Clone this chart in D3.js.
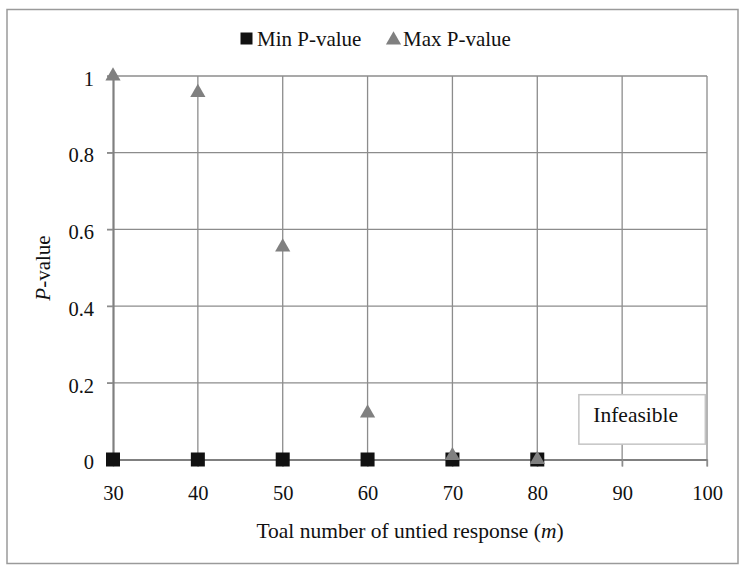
<!DOCTYPE html>
<html>
<head>
<meta charset="utf-8">
<script src="https://cdn.jsdelivr.net/npm/d3@7"></script>
<style>
  body { margin: 0; background: #fff; }
</style>
</head>
<body>
<div id="chart"></div>
<script>
// Data
const mValues = [30, 40, 50, 60, 70, 80];
const minP = [0, 0, 0, 0, 0, 0];
const maxP = [1.0, 0.957, 0.554, 0.121, 0.01, 0.0];
const xTicks = [30, 40, 50, 60, 70, 80, 90, 100];
const yTicks = [0, 0.2, 0.4, 0.6, 0.8, 1];
const seriesNames = ["Min P-value", "Max P-value"];

const serif = "Liberation Serif, DejaVu Serif, Times New Roman, Times, serif";
const width = 743, height = 566;
const plot = {left: 113, right: 707, top: 76, bottom: 459.5};

const svg = d3.select("#chart").append("svg")
  .attr("width", width)
  .attr("height", height)
  .attr("font-family", serif);

// outer frame
svg.append("rect")
  .attr("x", 7).attr("y", 9.5)
  .attr("width", 731).attr("height", 554)
  .attr("fill", "none")
  .attr("stroke", "#9a9a9a")
  .attr("stroke-width", 1.5);

const x = d3.scaleLinear().domain([30, 100]).range([plot.left, plot.right]);
const y = d3.scaleLinear().domain([0, 1]).range([plot.bottom, plot.top]);

// gridlines
svg.append("g").selectAll("line")
  .data(yTicks.filter(d => d > 0))
  .enter().append("line")
  .attr("x1", plot.left - 6).attr("x2", plot.right)
  .attr("y1", d => y(d)).attr("y2", d => y(d))
  .attr("stroke", "#8c8c8c").attr("stroke-width", 1.3);

svg.append("g").selectAll("line")
  .data(xTicks.filter(d => d > 30))
  .enter().append("line")
  .attr("x1", d => x(d)).attr("x2", d => x(d))
  .attr("y1", plot.top).attr("y2", plot.bottom + 7)
  .attr("stroke", "#8c8c8c").attr("stroke-width", 1.3);

// axes
const xAxis = svg.append("g")
  .attr("transform", `translate(0,${plot.bottom})`)
  .call(d3.axisBottom(x).tickValues(xTicks).tickSize(7).tickPadding(19).tickSizeOuter(0));
const yAxis = svg.append("g")
  .attr("transform", `translate(${plot.left},0)`)
  .call(d3.axisLeft(y).tickValues(yTicks).tickSize(6).tickPadding(13).tickSizeOuter(0)
    .tickFormat(d => d3.format("")(d)));

[xAxis, yAxis].forEach(a => {
  a.attr("font-family", serif).attr("font-size", 20.5);
  a.select(".domain").attr("stroke", "#808080").attr("stroke-width", 2.2);
  a.selectAll(".tick line").attr("stroke", "#8c8c8c").attr("stroke-width", 1.3);
  a.selectAll(".tick text").attr("fill", "#111");
});
yAxis.selectAll(".tick text").attr("dy", "0.45em");

// axis titles
svg.append("text")
  .attr("x", 410).attr("y", 538)
  .attr("text-anchor", "middle")
  .attr("font-size", 21.5)
  .attr("fill", "#111")
  .html('Toal number of untied response (<tspan font-style="italic">m</tspan>)');

svg.append("text")
  .attr("transform", "translate(50,268) rotate(-90)")
  .attr("text-anchor", "middle")
  .attr("font-size", 21)
  .attr("fill", "#111")
  .html('<tspan font-style="italic">P</tspan>-value');

// "Infeasible" box
svg.append("rect")
  .attr("x", x(84.9)).attr("y", y(0.169))
  .attr("width", x(99.8) - x(84.9)).attr("height", y(0.04) - y(0.169))
  .attr("fill", "#fff")
  .attr("stroke", "#c4c4c4").attr("stroke-width", 1.5);
svg.append("text")
  .attr("x", x(86.6)).attr("y", 421.5)
  .attr("font-size", 21.5)
  .attr("fill", "#111")
  .text("Infeasible");

// markers
const square = d3.symbol().type(d3.symbolSquare).size(196);
const triangle = d3.symbol().type(d3.symbolTriangle).size(100);

svg.append("g").selectAll("path")
  .data(mValues.map((m, i) => ({m, p: minP[i]})))
  .enter().append("path")
  .attr("d", square)
  .attr("transform", d => `translate(${x(d.m)},${y(d.p)})`)
  .attr("fill", "#111");

svg.append("g").selectAll("path")
  .data(mValues.map((m, i) => ({m, p: maxP[i]})))
  .enter().append("path")
  .attr("d", triangle)
  .attr("transform", d => `translate(${x(d.m)},${y(d.p)})`)
  .attr("fill", "#808080");

// legend
const legend = svg.append("g").attr("font-size", 21).attr("fill", "#111");
legend.append("path")
  .attr("d", d3.symbol().type(d3.symbolSquare).size(144))
  .attr("transform", "translate(246.5,38.5)")
  .attr("fill", "#111");
legend.append("text")
  .attr("x", 257).attr("y", 46)
  .text(seriesNames[0]);
legend.append("path")
  .attr("d", d3.symbol().type(d3.symbolTriangle).size(100))
  .attr("transform", "translate(393.5,40)")
  .attr("fill", "#808080");
legend.append("text")
  .attr("x", 403).attr("y", 46)
  .text(seriesNames[1]);
</script>
</body>
</html>
